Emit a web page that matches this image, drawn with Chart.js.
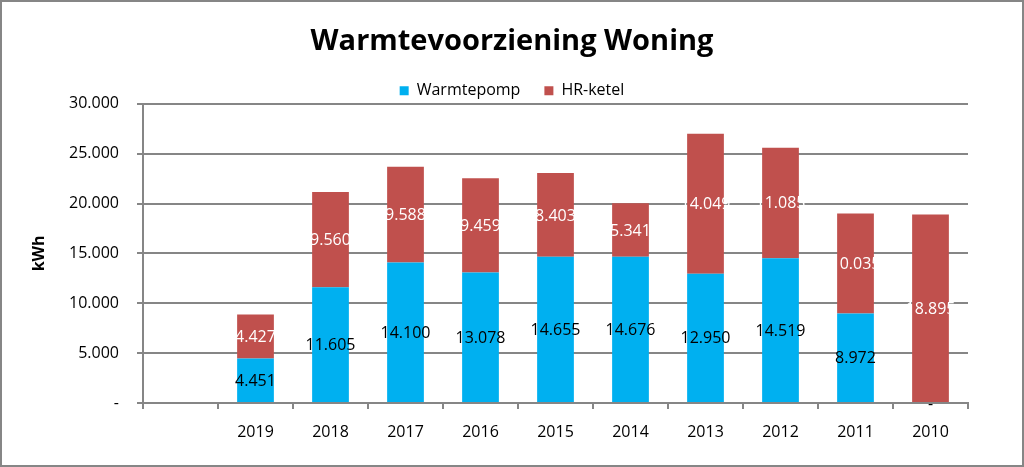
<!DOCTYPE html>
<html>
<head>
<meta charset="utf-8">
<script src="https://cdn.jsdelivr.net/npm/chart.js@4.4.1/dist/chart.umd.min.js"></script>
<style>
html,body{margin:0;padding:0;background:#fff;}
#wrap{position:relative;width:1024px;height:467px;}
#frame{position:absolute;left:0;top:0;width:1024px;height:467px;box-sizing:border-box;border:2px solid #868686;pointer-events:none;}
canvas{position:absolute;left:0;top:0;}
</style>
</head>
<body>
<div id="wrap">
<canvas id="c" width="1024" height="467"></canvas>
<div id="frame"></div>
</div>
<script>
const categories = ["", "2019", "2018", "2017", "2016", "2015", "2014", "2013", "2012", "2011", "2010"];
const warmtepomp = [null, 4451, 11605, 14100, 13078, 14655, 14676, 12950, 14519, 8972, 0];
const hrKetel = [null, 4427, 9560, 9588, 9459, 8403, 5341, 14049, 11085, 10035, 18895];
const yTicks = [0, 5000, 10000, 15000, 20000, 25000, 30000];

const FONT = "'Open Sans', 'Noto Sans', sans-serif";

function fmt(v) {
  if (v === 0) return "-";
  return Math.round(v).toString().replace(/\B(?=(\d{3})+(?!\d))/g, ".");
}

const labelPlugin = {
  id: "segLabels",
  afterDatasetsDraw(chart) {
    const ctx = chart.ctx;
    ctx.save();
    ctx.font = "16px " + FONT;
    ctx.textAlign = "center";
    ctx.textBaseline = "middle";
    chart.data.datasets.forEach((ds, i) => {
      const meta = chart.getDatasetMeta(i);
      meta.data.forEach((el, j) => {
        const v = ds.data[j];
        if (v === null || v === undefined) return;
        const y = (el.y + el.base) / 2;
        ctx.fillStyle = ds.labelColor;
        ctx.fillText(fmt(v), el.x, y + 1);
      });
    });
    ctx.restore();
  }
};

new Chart(document.getElementById("c"), {
  type: "bar",
  data: {
    labels: categories,
    datasets: [
      { label: "Warmtepomp", data: warmtepomp, backgroundColor: "#00B0F0", labelColor: "#000000" },
      { label: "HR-ketel", data: hrKetel, backgroundColor: "#C0504D", labelColor: "#FFFFFF" }
    ]
  },
  options: {
    responsive: false,
    animation: false,
    layout: { padding: { left: 0, right: 0, top: 0, bottom: 0 } },
    datasets: { bar: { categoryPercentage: 1.0, barPercentage: 0.49 } },
    plugins: {
      title: {
        display: true,
        text: "Warmtevoorziening Woning",
        color: "#000",
        font: { family: FONT, size: 29, weight: "bold" },
        padding: { top: 24, bottom: 0 }
      },
      legend: {
        display: true,
        position: "top",
        maxHeight: 45,
        labels: {
          color: "#000",
          font: { family: FONT, size: 16 },
          boxWidth: 9,
          boxHeight: 9,
          padding: 24
        }
      },
      tooltip: { enabled: false }
    },
    scales: {
      x: {
        stacked: true,
        offset: true,
        afterFit(scale) { scale.height = 64; },
        grid: {
          display: true,
          drawOnChartArea: false,
          drawTicks: true,
          tickLength: 6,
          tickColor: "#868686",
          offset: true,
          lineWidth: 2
        },
        border: { display: true, color: "#868686", width: 2 },
        ticks: { color: "#000", font: { family: FONT, size: 16 }, padding: 14, maxRotation: 0 }
      },
      y: {
        stacked: true,
        min: 0,
        max: 30000,
        afterFit(scale) { scale.width = 143; },
        afterBuildTicks(scale) { scale.ticks = yTicks.map(v => ({ value: v })); },
        grid: { color: "#868686", lineWidth: 2, tickLength: 6, tickColor: "#868686" },
        border: { display: true, color: "#868686", width: 2 },
        ticks: {
          color: "#000",
          font: { family: FONT, size: 16 },
          padding: 18,
          callback: (v) => fmt(v)
        },
        title: {
          display: true,
          text: "kWh",
          color: "#000",
          font: { family: FONT, size: 16, weight: "bold" },
          padding: { top: 30, bottom: 0 }
        }
      },
      yRight: {
        type: "linear",
        position: "right",
        min: 0,
        max: 30000,
        display: true,
        afterFit(scale) { scale.width = 56; },
        grid: { display: false, drawTicks: false },
        border: { display: false },
        ticks: { display: false }
      }
    }
  },
  plugins: [labelPlugin]
});
</script>
</body>
</html>
